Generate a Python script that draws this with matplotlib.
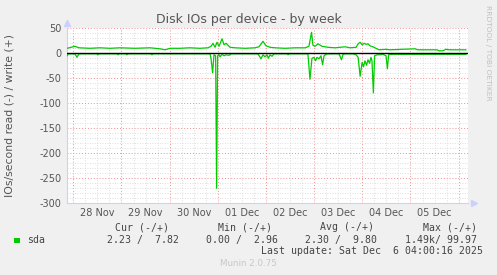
import matplotlib
matplotlib.use("Agg")
import matplotlib.pyplot as plt
from matplotlib.ticker import MultipleLocator, FuncFormatter, FixedLocator

# ---- data (hours since 28 Nov 00:00) ----
write_hours = [-3.1, -1.1, 0.8, 2.8, 8.3, 13.3, 18.3, 23.3, 30.7, 38.2, 43.2, 45.7, 48.2,
               53.1, 58.1, 63.1, 67.1, 68.6, 69.6, 70.6, 71.6, 72.6, 74.1, 75.1, 76.1,
               77.1, 78.1, 80.6, 85.6, 90.5, 92.5, 94.5, 96.0, 98.0, 100.5, 105.5, 110.5,
               115.5, 117.4, 118.7, 119.4, 120.4, 121.9, 123.9, 126.9, 130.4, 135.4, 137.9,
               140.9, 141.9, 142.9, 143.9, 144.9, 145.8, 146.8, 147.8, 149.3, 150.8, 152.3,
               155.8, 157.7, 170.2, 171.7, 181.2, 182.2, 184.1, 185.6, 187.6, 195.6]
write_vals = [10, 12, 14, 11, 10, 11, 10, 11, 10, 11, 9, 7, 10,
              10, 11, 10, 11, 14, 20, 12, 22, 14, 29, 17, 20,
              16, 12, 11, 10, 11, 13, 24, 15, 12, 11, 10, 11,
              11, 14, 42, 16, 14, 19, 14, 12, 11, 13, 11,
              12, 19, 22, 17, 20, 18, 19, 15, 13, 10, 7,
              8, 7, 9, 7, 7, 5, 5, 8, 7, 7]

read_hours = [-3.1, -2.4, 0.8, 1.8, 2.8, 11.8, 12.3, 12.8, 21.8, 22.3, 22.8, 26.2, 26.7,
              27.2, 38.7, 39.2, 39.7, 68.1, 68.6, 69.4, 70.1, 70.9, 71.4, 71.9, 72.6,
              73.1, 74.1, 75.1, 76.1, 77.6, 78.6, 92.0, 93.5, 94.5, 95.5, 96.5, 97.2,
              98.0, 99.0, 100.0, 106.5, 107.0, 107.5, 116.9, 117.9, 118.9, 119.9, 120.7,
              121.4, 122.4, 123.4, 124.2, 124.9, 125.9, 126.9, 132.4, 133.6, 134.4, 135.4,
              139.4, 140.9, 141.9, 142.9, 143.9, 144.6, 145.3, 146.1, 146.8, 147.6, 148.3,
              148.8, 149.5, 150.1, 151.3, 152.8, 154.3, 155.8, 156.5, 157.1, 157.9, 195.6]
read_vals = [5, 1, 1, 8, 1, 1, 3, 1, 1, 3, 1, 1, 3,
             1, 1, 3, 1, 1, 10, 39, 3, 5, 270, 5, 3,
             7, 2, 5, 3, 4, 1, 1, 11, 3, 7, 3, 10,
             3, 6, 1, 1, 3, 1, 1, 52, 10, 8, 15,
             8, 11, 5, 23, 5, 2, 1, 1, 13, 2, 1,
             1, 3, 8, 46, 18, 27, 15, 24, 13, 20, 8,
             15, 79, 5, 3, 3, 2, 5, 31, 3, 2, 2]

day_labels = ["28 Nov", "29 Nov", "30 Nov", "01 Dec", "02 Dec", "03 Dec", "04 Dec", "05 Dec"]

title = "Disk IOs per device - by week"
ylabel = "IOs/second read (-) / write (+)"
series_name = "sda"
cur = ("2.23", "7.82")
mn = ("0.00", "2.96")
avg = ("2.30", "9.80")
mx = ("1.49k", "99.97")

GREEN = "#00CC00"
W, H = 497, 275

fig = plt.figure(figsize=(W / 100, H / 100), dpi=100, facecolor="#F0F0F0")
L, R, T, B = 66.7, 468.3, 28.3, 203.3
ax = fig.add_axes([L / W, 1 - B / H, (R - L) / W, (B - T) / H])
ax.set_facecolor("white")

ax.set_xlim(-3.3, 196.8)
ax.set_ylim(-300, 50)

# grids
ax.xaxis.set_major_locator(MultipleLocator(24))
ax.xaxis.set_minor_locator(MultipleLocator(6))
ax.yaxis.set_major_locator(MultipleLocator(50))
ax.yaxis.set_minor_locator(MultipleLocator(10))
ax.grid(which="minor", color="#D4D4D4", linestyle=(0, (1, 2)), linewidth=0.6)
ax.grid(which="major", color="#F09090", linestyle=(0, (1, 2)), linewidth=0.7)
ax.set_axisbelow(True)

ax.xaxis.set_major_formatter(FuncFormatter(lambda v, p: ""))
def minor_fmt(v, p):
    k = int(round(v))
    if k % 24 == 12:
        i = (k - 12) // 24
        if 0 <= i < len(day_labels):
            return day_labels[i]
    return ""
ax.xaxis.set_minor_formatter(FuncFormatter(minor_fmt))
ax.yaxis.set_major_formatter(FuncFormatter(lambda v, p: f"{int(v)}"))

ax.tick_params(axis="both", which="both", length=0, colors="#555555", labelsize=7)
ax.tick_params(axis="y", pad=4)
ax.tick_params(axis="x", which="minor", pad=3.5)

for s in ("top", "right"):
    ax.spines[s].set_visible(False)
for s in ("left", "bottom"):
    ax.spines[s].set_color("#CCD0FF")
    ax.spines[s].set_linewidth(0.8)

# data
ax.plot(write_hours, write_vals, color=GREEN, linewidth=0.9, zorder=3)
ax.plot(read_hours, [-v for v in read_vals], color=GREEN, linewidth=0.9, zorder=3)
ax.axhline(0, color="black", linewidth=1.0, zorder=4)

# axis arrows
ax.plot([0], [1.03], marker="^", color="#CCD0FF", markersize=4, transform=ax.transAxes, clip_on=False)
ax.plot([1.015], [0], marker=">", color="#CCD0FF", markersize=4, transform=ax.transAxes, clip_on=False)

# texts
fig.text(0.5, 1 - 19 / H, title, ha="center", va="center", fontsize=9, color="#555555")
fig.text(10 / W, 1 - 115.8 / H, ylabel, ha="center", va="center", rotation=90, fontsize=7.8, color="#555555")
fig.text(488 / W, 1 - 5 / H, "RRDTOOL / TOBI OETIKER", ha="center", va="top", rotation=270,
         fontsize=5.4, color="#C0C0C0")

mono = dict(family="DejaVu Sans Mono", fontsize=7.1, color="#444444", va="center")
y_hdr, y_val, y_upd = 1 - 227.3 / H, 1 - 240 / H, 1 - 251.3 / H
fig.patches.append(plt.Rectangle((14 / W, 1 - 243.3 / H), 6 / W, 5.6 / H, transform=fig.transFigure,
                                 facecolor=GREEN, edgecolor="none"))
fig.text(26.7 / W, y_val, series_name, ha="left", **mono)
for x_end, hdr, pair in [(169.3, "Cur (-/+)", cur), (271.7, "Min (-/+)", mn),
                         (374, "Avg (-/+)", avg), (476.7, "Max (-/+)", mx)]:
    fig.text(x_end / W, y_hdr, hdr, ha="right", **mono)
for x_end, pair in [(179, cur), (278, mn), (377.3, avg), (476.7, mx)]:
    a, b = pair
    fig.text(x_end / W, y_val, f"{a:>5}/{b:>6}" if a.endswith("k") else f"{a} / {b:>5}", ha="right", **mono)
fig.text(482.7 / W, y_upd, "Last update: Sat Dec  6 04:00:16 2025", ha="right", **mono)
fig.text(248 / W, 1 - 264 / H, "Munin 2.0.75", ha="center", va="center", fontsize=6.3, color="#C8C8C8")

fig.savefig("out.png", dpi=100, facecolor=fig.get_facecolor())
